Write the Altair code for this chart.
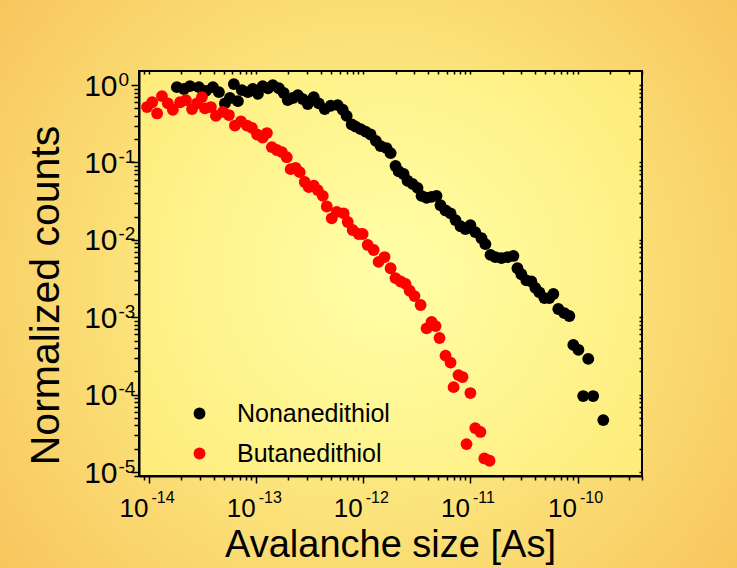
import altair as alt
import pandas as pd

# ---------------- data ----------------
series_names = ["Nonanedithiol", "Butanedithiol"]

black_size = [1.82e-14, 2.12e-14, 2.41e-14, 2.92e-14, 3.40e-14, 3.95e-14, 4.49e-14, 5.11e-14, 5.69e-14, 6.19e-14,
              6.75e-14, 7.36e-14, 8.37e-14, 9.31e-14, 1.04e-13, 1.15e-13, 1.29e-13, 1.43e-13, 1.63e-13, 1.81e-13,
              1.97e-13, 2.20e-13, 2.45e-13, 2.72e-13, 3.03e-13, 3.45e-13, 3.84e-13, 4.37e-13, 4.97e-13, 5.77e-13,
              6.43e-13, 7.00e-13, 7.80e-13, 8.49e-13, 9.46e-13, 1.05e-12, 1.17e-12, 1.31e-12, 1.45e-12, 1.65e-12,
              1.80e-12, 2.00e-12, 2.14e-12, 2.38e-12, 2.59e-12, 2.88e-12, 3.21e-12, 3.50e-12, 3.90e-12, 4.34e-12,
              4.83e-12, 5.26e-12, 5.86e-12, 6.53e-12, 7.26e-12, 8.09e-12, 9.00e-12, 1.00e-11, 1.11e-11, 1.27e-11,
              1.38e-11, 1.54e-11, 1.71e-11, 1.95e-11, 2.22e-11, 2.52e-11, 2.75e-11, 2.99e-11, 3.33e-11, 3.71e-11,
              4.04e-11, 4.41e-11, 4.91e-11, 5.46e-11, 5.95e-11, 6.62e-11, 7.54e-11, 8.39e-11, 9.14e-11, 1.02e-10,
              1.26e-10, 1.13e-10, 1.40e-10, 1.74e-10]
black_counts = [0.94, 0.89, 0.97, 0.94, 0.84, 0.94, 0.81, 0.58, 0.68, 1.03,
                0.62, 0.86, 0.81, 0.89, 0.77, 0.97, 0.91, 1.0, 0.91, 0.79,
                0.64, 0.68, 0.74, 0.66, 0.57, 0.70, 0.58, 0.49, 0.54, 0.55,
                0.48, 0.40, 0.31, 0.29, 0.27, 0.25, 0.23, 0.19, 0.163, 0.153,
                0.132, 0.090, 0.077, 0.071, 0.058, 0.053, 0.047, 0.037, 0.035, 0.036,
                0.037, 0.028, 0.024, 0.022, 0.018, 0.015, 0.0138, 0.0155, 0.0126, 0.0105,
                0.0088, 0.0064, 0.0060, 0.0058, 0.0060, 0.0062, 0.0043, 0.0036, 0.0030, 0.0029,
                0.0024, 0.0021, 0.00177, 0.00177, 0.0020, 0.00128, 0.00113, 0.00104, 0.00044, 0.00038,
                0.00029, 0.000096, 0.000096, 0.000047]

red_size = [9.58e-15, 1.07e-14, 1.19e-14, 1.32e-14, 1.50e-14, 1.67e-14, 1.95e-14, 2.21e-14, 2.52e-14, 2.80e-14,
            3.12e-14, 3.33e-14, 3.78e-14, 4.21e-14, 4.90e-14, 5.57e-14, 6.34e-14, 7.21e-14, 8.20e-14, 9.12e-14,
            1.02e-13, 1.15e-13, 1.26e-13, 1.40e-13, 1.56e-13, 1.74e-13, 1.93e-13, 2.10e-13, 2.34e-13, 2.55e-13,
            2.84e-13, 3.10e-13, 3.45e-13, 3.76e-13, 4.19e-13, 4.56e-13, 5.08e-13, 5.65e-13, 6.56e-13, 7.16e-13,
            7.96e-13, 9.06e-13, 9.87e-13, 1.10e-12, 1.25e-12, 1.39e-12, 1.58e-12, 1.80e-12, 2.00e-12, 2.23e-12,
            2.48e-12, 2.71e-12, 3.01e-12, 3.43e-12, 3.90e-12, 4.34e-12, 4.73e-12, 5.15e-12, 5.86e-12, 6.53e-12,
            6.97e-12, 7.74e-12, 8.44e-12, 1.00e-11, 9.20e-12, 1.11e-11, 1.24e-11, 1.35e-11, 1.51e-11]
red_counts = [0.52, 0.60, 0.43, 0.72, 0.58, 0.48, 0.60, 0.64, 0.49, 0.58,
              0.70, 0.50, 0.52, 0.40, 0.45, 0.41, 0.30, 0.34, 0.30, 0.28,
              0.23, 0.21, 0.24, 0.158, 0.145, 0.136, 0.117, 0.082, 0.085, 0.075,
              0.056, 0.048, 0.050, 0.044, 0.037, 0.027, 0.019, 0.023, 0.022, 0.017,
              0.0134, 0.0119, 0.0119, 0.0086, 0.0074, 0.0052, 0.0060, 0.0043, 0.0032, 0.0029,
              0.0027, 0.0022, 0.00188, 0.00144, 0.00072, 0.00087, 0.00077, 0.00054, 0.00032, 0.00026,
              0.000125, 0.000179, 0.000169, 0.000105, 0.000023, 0.000037, 0.000033, 0.000015, 0.000014]

x_major = [1e-14, 1e-13, 1e-12, 1e-11, 1e-10]
y_major = [1e-5, 1e-4, 1e-3, 1e-2, 1e-1, 1.0]

# ---------------- layout / style ----------------
X_DOMAIN = [8.06e-15, 4.0e-10]
Y_DOMAIN = [8.9e-6, 1.52]
W, H = 503, 405
LEFT, TOP = 139, 71
CW, CH = 737, 568
FONT = "Liberation Sans"

x_minor = [m * 10.0 ** k for k in range(-15, -9) for m in range(2, 10)]
x_minor = [v for v in x_minor if X_DOMAIN[0] <= v <= X_DOMAIN[1]]
y_minor = [m * 10.0 ** k for k in range(-6, 1) for m in range(2, 10)]
y_minor = [v for v in y_minor if Y_DOMAIN[0] <= v <= Y_DOMAIN[1]]

df_black = pd.DataFrame({"size": black_size, "counts": black_counts, "sample": series_names[0]})
df_red = pd.DataFrame({"size": red_size, "counts": red_counts, "sample": series_names[1]})
df_all = pd.concat([df_black, df_red], ignore_index=True)

xs = alt.Scale(type="log", domain=X_DOMAIN, nice=False)
ys = alt.Scale(type="log", domain=Y_DOMAIN, nice=False)

EXP = "'' + round(log(datum.value) / LN10)"

legend = alt.Legend(title=None, orient="none", legendX=48, legendY=330, padding=0,
                    labelFont=FONT, labelFontSize=25, labelColor="black", labelOffset=25,
                    symbolType="circle", symbolSize=140, symbolStrokeWidth=0, symbolOpacity=1,
                    rowPadding=14)
color = alt.Color("sample:N", scale=alt.Scale(domain=series_names, range=["#000000", "#ff0000"]),
                  legend=legend)

one = pd.DataFrame({"a": [0]})

bg = alt.Chart(one).mark_rect(
    fill={"gradient": "radial", "x1": 0.5, "y1": 0.5, "r1": 0, "x2": 0.5, "y2": 0.5, "r2": 0.72,
          "stops": [{"offset": 0, "color": "#FFFF98"}, {"offset": 1, "color": "#F7BE55"}]}
).encode(x=alt.value(-LEFT), x2=alt.value(CW - LEFT), y=alt.value(-TOP), y2=alt.value(CH - TOP))

plot_bg = alt.Chart(one).mark_rect(
    fill={"gradient": "radial", "x1": 0.5, "y1": 0.5, "r1": 0, "x2": 0.5, "y2": 0.5, "r2": 0.75,
          "stops": [{"offset": 0, "color": "#FFFFA8"}, {"offset": 1, "color": "#FEE872"}]},
    stroke="black", strokeWidth=2
).encode(x=alt.value(0), x2=alt.value(W), y=alt.value(0), y2=alt.value(H))

common_axis = dict(grid=False, zindex=1, tickColor="black", tickWidth=1.5, labelFlush=False,
                   labelOverlap=False)

# mirror ticks on top / right (inward)
mirror = alt.Chart(df_all).mark_circle(opacity=0).encode(
    x=alt.X("size:Q", scale=xs, axis=alt.Axis(orient="top", values=x_major + x_minor, labels=False,
                                               domain=False, tickSize=3, offset=-3, title=None,
                                               **common_axis)),
    y=alt.Y("counts:Q", scale=ys, axis=alt.Axis(orient="right", values=y_major + y_minor, labels=False,
                                                 domain=False, tickSize=3, offset=-3, title=None,
                                                 **common_axis)),
)

black = alt.Chart(df_black).mark_circle(size=140, opacity=1).encode(
    x=alt.X("size:Q", scale=xs, axis=alt.Axis(orient="bottom", values=x_minor, labels=False,
                                               domain=False, tickSize=4, title=None, **common_axis)),
    y=alt.Y("counts:Q", scale=ys, axis=alt.Axis(orient="left", values=y_minor, labels=False,
                                                 domain=False, tickSize=5, title=None, **common_axis)),
    color=color,
)

red = alt.Chart(df_red).mark_circle(size=140, opacity=1).encode(
    x=alt.X("size:Q", scale=xs, axis=alt.Axis(
        orient="bottom", values=x_major, labelExpr="'10'", labelFont=FONT, labelFontSize=26,
        labelColor="black", labelAlign="right", labelBaseline="alphabetic", labelPadding=33, labelOffset=-1,
        tickSize=7, domain=True, domainColor="black", domainWidth=2,
        title="Avalanche size [As]", titleFont=FONT, titleFontSize=38, titleFontWeight="normal",
        titleColor="black", titleX=251, titleY=80, titleAlign="center", titleBaseline="alphabetic",
        **common_axis)),
    y=alt.Y("counts:Q", scale=ys, axis=alt.Axis(
        orient="left", values=y_major, labelExpr="'10'", labelFont=FONT, labelFontSize=30,
        labelColor="black", labelAlign="right", labelBaseline="alphabetic", labelPadding=14, labelOffset=10,
        tickSize=8, domain=True, domainColor="black", domainWidth=2,
        title="Normalized counts", titleFont=FONT, titleFontSize=41, titleFontWeight="normal",
        titleColor="black", titleAngle=270, titleX=-81, titleY=224, titleAlign="center",
        titleBaseline="alphabetic", **common_axis)),
    color=color,
)

expo = alt.Chart(df_all).mark_circle(opacity=0).encode(
    x=alt.X("size:Q", scale=xs, axis=alt.Axis(
        orient="bottom", values=x_major, labelExpr=EXP, labelFont=FONT, labelFontSize=16,
        labelColor="black", labelAlign="left", labelBaseline="alphabetic", labelPadding=19, labelOffset=2,
        tickSize=7, tickOpacity=0, domain=False, title=None, grid=False, zindex=1,
        labelFlush=False, labelOverlap=False)),
    y=alt.Y("counts:Q", scale=ys, axis=alt.Axis(
        orient="left", values=y_major, labelExpr=EXP, labelFont=FONT, labelFontSize=19,
        labelColor="black", labelAlign="left", labelBaseline="alphabetic", labelPadding=13, labelOffset=0,
        tickSize=8, tickOpacity=0, domain=False, title=None, grid=False, zindex=1,
        labelFlush=False, labelOverlap=False)),
)

chart = alt.layer(bg, plot_bg, mirror, black, red, expo).resolve_axis(
    x="independent", y="independent"
).properties(
    width=W, height=H, padding=0, background="#F7BE55"
).configure_view(stroke=None)

chart.save("out.html", embed_options={"renderer": "svg", "actions": False})
